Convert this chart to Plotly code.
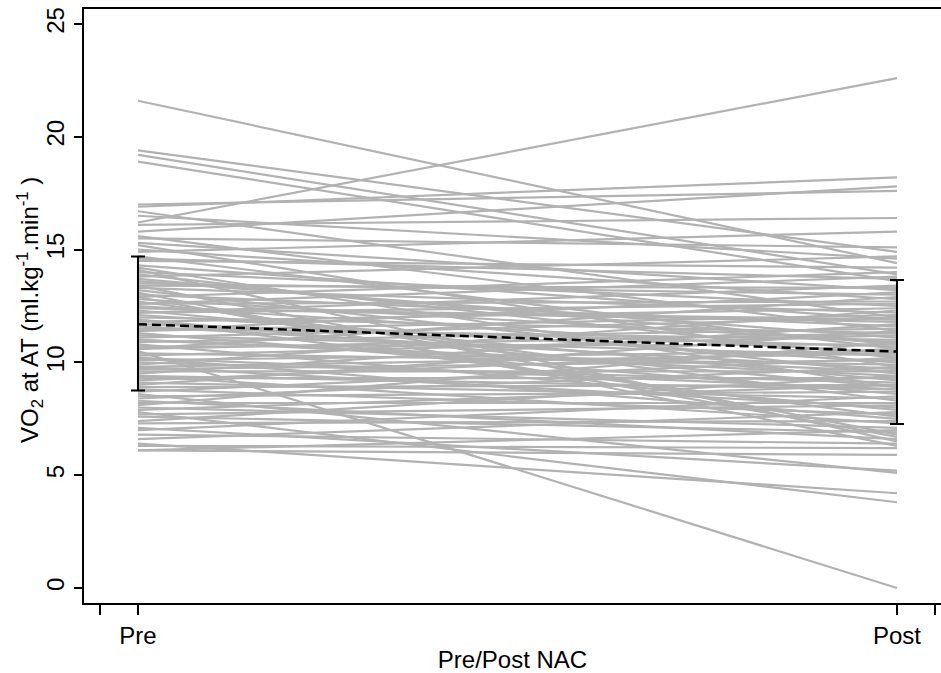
import plotly.graph_objects as go

# ---- data ----
categories = ["Pre", "Post"]
cat_pos = [0, 1]

pre_values = [21.6, 19.4, 19.2, 18.9, 16.2, 17.0, 16.9, 16.7, 16.5, 16.1,
              15.8, 15.6, 15.5, 15.3, 15.2, 15.0, 14.9, 14.7, 14.6, 14.5,
              14.3, 14.2, 14.0, 13.9, 13.8, 13.6, 13.5, 13.4, 13.3, 13.2,
              13.0, 12.9, 12.8, 12.7, 12.6, 12.5, 12.4, 12.3, 12.2, 12.1,
              12.0, 11.9, 11.8, 11.7, 11.6, 11.5, 11.4, 11.3, 11.2, 11.1,
              11.0, 10.9, 10.8, 10.7, 10.6, 10.5, 10.4, 10.3, 10.2, 10.1,
              10.0, 9.9, 9.8, 9.7, 9.6, 9.5, 9.4, 9.3, 9.2, 9.1,
              9.0, 8.9, 8.8, 8.7, 8.6, 8.5, 8.4, 8.3, 8.2, 8.1,
              8.0, 7.9, 7.8, 7.7, 7.6, 7.4, 7.3, 7.1, 7.0, 6.8,
              6.6, 6.4, 6.3, 6.1, 6.1, 14.1, 13.7, 13.1, 12.6, 12.2,
              11.9, 11.4, 11.0, 10.6, 10.2, 9.8, 9.4, 13.4, 12.9, 12.4]
post_values = [14.4, 14.9, 13.9, 13.6, 22.6, 17.6, 18.2, 12.0, 14.6, 16.4,
               17.8, 11.4, 15.1, 13.2, 9.8, 12.8, 15.8, 10.6, 13.7, 14.2,
               11.9, 8.9, 12.5, 10.2, 14.7, 11.1, 13.0, 6.8, 12.2, 9.5,
               11.6, 14.0, 10.9, 8.3, 12.7, 10.4, 11.8, 9.2, 13.4, 10.0,
               11.3, 7.6, 12.4, 10.7, 9.7, 11.0, 13.1, 8.6, 10.3, 12.0,
               9.4, 11.5, 7.9, 10.8, 12.9, 0.0, 9.9, 11.2, 8.8, 10.5,
               9.1, 12.3, 8.0, 10.1, 9.6, 11.7, 7.3, 9.3, 10.6, 8.4,
               11.4, 9.0, 7.7, 10.2, 5.1, 8.7, 9.8, 6.6, 8.2, 10.9,
               7.1, 9.0, 3.8, 8.1, 6.9, 9.4, 7.4, 5.2, 8.5, 6.4,
               7.8, 4.2, 6.2, 7.0, 5.9, 6.5, 10.8, 6.3, 13.8, 12.6,
               8.9, 12.1, 9.6, 11.3, 7.5, 10.4, 8.8, 13.3, 6.7, 11.9]

mean_values = [11.69, 10.48]
sd_upper = [14.69, 13.65]
sd_lower = [8.75, 7.27]

y_tick_vals = [0, 5, 10, 15, 20, 25]
x_tick_vals = [0, 1]
x_tick_text = ["Pre", "Post"]
x_end_ticks = [-0.05, 1.05]

# ---- build figure ----
xs, ys = [], []
for a, b in zip(pre_values, post_values):
    xs += [cat_pos[0], cat_pos[1], None]
    ys += [a, b, None]

fig = go.Figure()
fig.add_trace(go.Scatter(
    x=xs, y=ys, mode="lines",
    line=dict(color="rgb(178,178,178)", width=2.2),
    hoverinfo="skip", showlegend=False))

fig.add_trace(go.Scatter(
    x=cat_pos, y=mean_values, mode="lines",
    line=dict(color="black", width=2.5, dash="9px,5px"),
    error_y=dict(type="data", symmetric=False,
                 array=[u - m for u, m in zip(sd_upper, mean_values)],
                 arrayminus=[m - l for l, m in zip(sd_lower, mean_values)],
                 color="black", thickness=2, width=7),
    showlegend=False))

font_family = "Liberation Sans, Arial, sans-serif"

fig.update_layout(
    width=941, height=673,
    margin=dict(l=84, r=0, t=9, b=70),
    paper_bgcolor="white", plot_bgcolor="white",
    font=dict(family=font_family, size=24, color="black"),
    showlegend=False,
    xaxis=dict(
        range=[-0.0711, 1.058],
        tickmode="array", tickvals=x_tick_vals, ticktext=x_tick_text,
        ticks="outside", ticklen=10, tickwidth=1.5, tickcolor="black",
        minor=dict(tickmode="array", tickvals=x_end_ticks, ticks="outside",
                   ticklen=10, tickwidth=1.5, tickcolor="black", showgrid=False),
        showline=True, linecolor="black", linewidth=2, mirror=True,
        showgrid=False, zeroline=False,
        tickfont=dict(size=24),
        title=dict(text="Pre/Post NAC", font=dict(size=24), standoff=8),
    ),
    yaxis=dict(
        range=[-0.665, 25.665],
        tickvals=y_tick_vals,
        ticks="outside", ticklen=8, tickwidth=1.5, tickcolor="black",
        showline=True, linecolor="black", linewidth=2,
        showgrid=False, zeroline=False,
        tickangle=-90,
        tickfont=dict(size=24),
    ),
    annotations=[dict(
        text="VO<sub>2</sub> at AT (ml.kg<sup>-1</sup>.min<sup>-1</sup> )",
        xref="paper", yref="paper",
        x=(30 - 84) / 857, y=(603 - 310) / 594,
        xanchor="center", yanchor="middle",
        textangle=-90, showarrow=False,
        font=dict(size=24, family=font_family, color="black"),
    )],
)

fig.write_html("out.html")
